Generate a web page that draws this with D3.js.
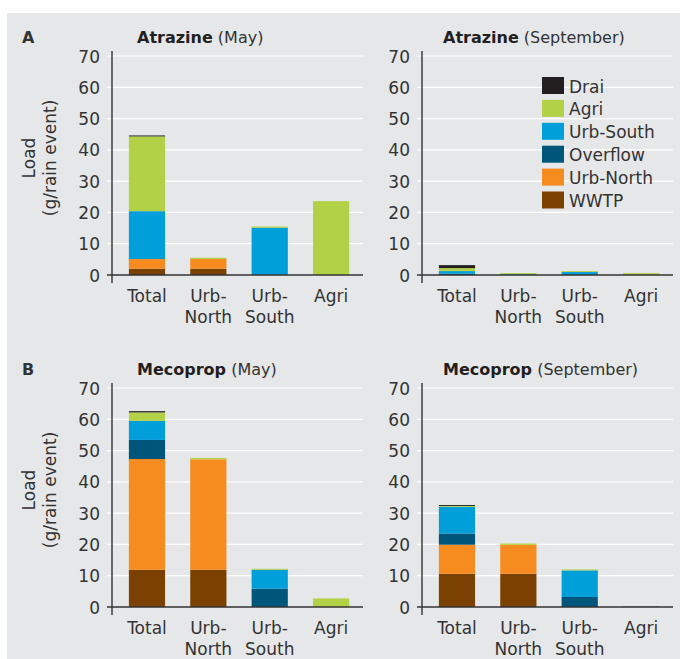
<!DOCTYPE html>
<html>
<head>
<meta charset="utf-8">
<script src="https://cdn.jsdelivr.net/npm/d3@7"></script>
<style>
  html, body { margin: 0; padding: 0; background: #fff; }
  svg text { font-family: "DejaVu Sans", sans-serif; fill: #333; }
</style>
</head>
<body>
<div id="chart"></div>
<script>
// categories on the x axis, sources in stacking order (bottom to top)
const categories = ['Total', 'Urb-North', 'Urb-South', 'Agri'];
const sources = ['WWTP', 'Urb-North', 'Overflow', 'Urb-South', 'Agri', 'Drai'];
const legendOrder = ['Drai', 'Agri', 'Urb-South', 'Overflow', 'Urb-North', 'WWTP'];
const colors = ['#7a4100', '#f68b1f', '#00557a', '#009fda', '#b3d147', '#231f20'];
const yTicks = [0, 10, 20, 30, 40, 50, 60, 70];

// one row per category, values in the order of `sources` (g/rain event)
const atrazineMay = [
  [2.0, 3.1, 0, 15.3, 23.9, 0.3],
  [2.0, 3.1, 0, 0, 0.4, 0],
  [0, 0, 0, 15.1, 0.4, 0],
  [0, 0, 0, 0, 23.6, 0]
];
const atrazineSep = [
  [0, 0, 0.4, 0.85, 0.95, 0.95],
  [0, 0, 0, 0.25, 0.35, 0],
  [0, 0, 0, 0.95, 0.3, 0],
  [0, 0, 0, 0, 0.6, 0]
];
const mecopropMay = [
  [11.9, 35.4, 6.1, 6.1, 2.7, 0.4],
  [11.9, 35.3, 0, 0, 0.45, 0],
  [0, 0, 5.85, 6.05, 0.3, 0],
  [0, 0, 0, 0, 2.75, 0]
];
const mecopropSep = [
  [10.6, 9.3, 3.6, 8.5, 0.3, 0.3],
  [10.6, 9.25, 0, 0, 0.45, 0],
  [0, 0, 3.2, 8.5, 0.3, 0],
  [0, 0, 0.15, 0, 0, 0]
];

const W = 680, H = 659, PW = 251, PH = 219;

const svg = d3.select('#chart').append('svg')
  .attr('width', W).attr('height', H);

svg.append('rect')
  .attr('x', 7).attr('y', 13)
  .attr('width', W - 7).attr('height', H - 13)
  .attr('fill', '#e6e7e8');

const panels = [
  {name: 'Atrazine', month: '(May)', data: atrazineMay, x0: 112, y0: 275, tdx: 25, letter: 'A', ylab: true},
  {name: 'Atrazine', month: '(September)', data: atrazineSep, x0: 422, y0: 275, tdx: 21, legend: true},
  {name: 'Mecoprop', month: '(May)', data: mecopropMay, x0: 112, y0: 607, tdx: 25, letter: 'B', ylab: true},
  {name: 'Mecoprop', month: '(September)', data: mecopropSep, x0: 422, y0: 607, tdx: 21}
];

const color = d3.scaleOrdinal().domain(sources).range(colors);

panels.forEach(p => {
  const x = d3.scaleBand().domain(categories)
    .range([p.x0, p.x0 + PW]).paddingInner(0.41).paddingOuter(0.25).align(0.55);
  const y = d3.scaleLinear().domain([0, 70]).range([p.y0, p.y0 - PH]);

  const g = svg.append('g');

  // white grid lines
  g.selectAll('.grid').data(yTicks.slice(1)).enter()
    .append('line')
    .attr('x1', p.x0 - 5).attr('x2', p.x0 + PW)
    .attr('y1', d => y(d)).attr('y2', d => y(d))
    .attr('stroke', '#fff').attr('stroke-width', 1.2);

  // tick labels
  const yAxis = d3.axisLeft(y).tickValues(yTicks).tickSize(0).tickPadding(12);
  const ya = g.append('g').attr('transform', `translate(${p.x0},0)`).call(yAxis);
  ya.select('.domain').remove();
  ya.selectAll('text')
    .style('font-size', '17px')
    .attr('dy', '0.36em')
    .attr('fill', '#333');

  // stacked bars
  const rows = p.data.map((r, i) => {
    const o = {cat: categories[i]};
    sources.forEach((s, j) => o[s] = r[j]);
    return o;
  });
  const stacked = d3.stack().keys(sources)(rows);

  g.selectAll('.layer').data(stacked).enter()
    .append('g')
    .attr('fill', d => color(d.key))
    .selectAll('rect').data(d => d).enter()
    .append('rect')
    .attr('x', d => x(d.data.cat))
    .attr('width', x.bandwidth())
    .attr('y', d => y(d[1]))
    .attr('height', d => y(d[0]) - y(d[1]));

  // axis lines
  g.append('line')
    .attr('x1', p.x0 - 5).attr('x2', p.x0 + PW)
    .attr('y1', p.y0).attr('y2', p.y0)
    .attr('stroke', '#333').attr('stroke-width', 1.4);
  g.append('line')
    .attr('x1', p.x0).attr('x2', p.x0)
    .attr('y1', p.y0 - 224).attr('y2', p.y0 + 8)
    .attr('stroke', '#333').attr('stroke-width', 1.4);

  // category labels
  const xl = g.selectAll('.xl').data(categories).enter()
    .append('text')
    .attr('text-anchor', 'middle')
    .style('font-size', '17px');
  xl.each(function(d) {
    const parts = d.includes('-') ? [d.split('-')[0] + '-', d.split('-')[1]] : [d];
    const t = d3.select(this);
    parts.forEach((s, k) => {
      t.append('tspan')
        .attr('x', x(d) + x.bandwidth() / 2)
        .attr('y', p.y0 + 27 + k * 21)
        .text(s);
    });
  });

  // title
  const title = g.append('text')
    .attr('x', p.x0 + p.tdx).attr('y', p.y0 - 232)
    .style('font-size', '16px');
  title.append('tspan').attr('font-weight', 'bold').attr('fill', '#231f20').text(p.name);
  title.append('tspan').text(' ' + p.month);

  if (p.letter) {
    g.append('text')
      .attr('x', 22).attr('y', p.y0 - 232)
      .attr('font-weight', 'bold')
      .attr('fill', '#231f20')
      .style('font-size', '16px')
      .text(p.letter);
  }

  if (p.ylab) {
    const cy = p.y0 - 117;
    g.append('text')
      .attr('transform', `translate(35,${cy}) rotate(-90)`)
      .attr('text-anchor', 'middle')
      .style('font-size', '17px')
      .text('Load');
    g.append('text')
      .attr('transform', `translate(56,${cy}) rotate(-90)`)
      .attr('text-anchor', 'middle')
      .style('font-size', '17px')
      .text('(g/rain event)');
  }

  if (p.legend) {
    const lg = g.selectAll('.lg').data(legendOrder).enter()
      .append('g')
      .attr('transform', (d, i) => `translate(542,${77 + i * 22.9})`);
    lg.append('rect')
      .attr('width', 22).attr('height', 17)
      .attr('fill', d => color(d));
    lg.append('text')
      .attr('x', 27).attr('y', 15.5)
      .style('font-size', '17px')
      .text(d => d);
  }
});
</script>
</body>
</html>
